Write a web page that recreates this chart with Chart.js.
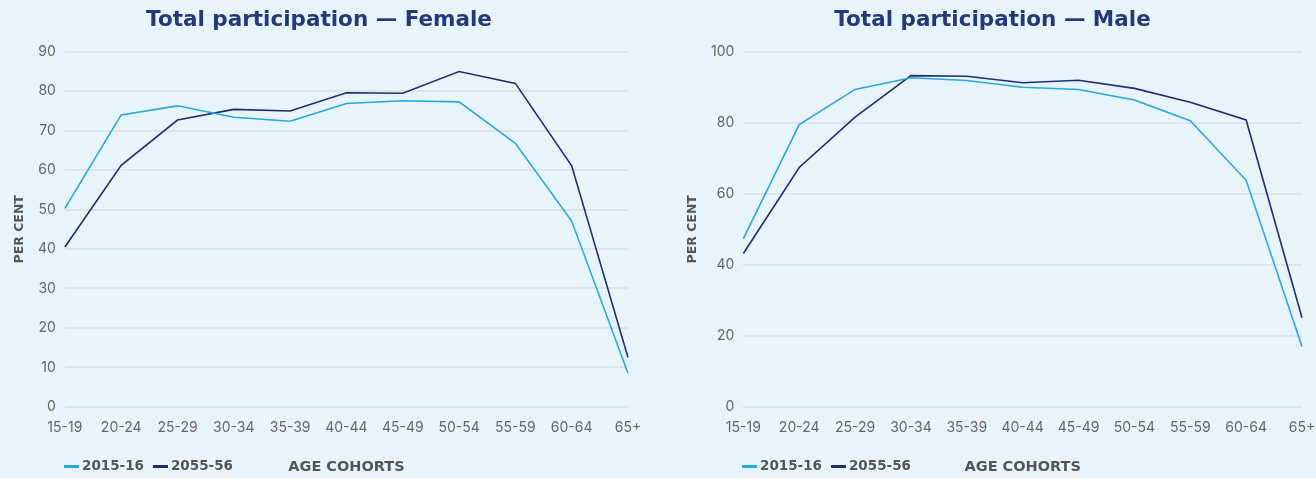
<!DOCTYPE html>
<html>
<head>
<meta charset="utf-8">
<script src="https://cdn.jsdelivr.net/npm/chart.js@4.4.1/dist/chart.umd.min.js"></script>
<style>
    body {
        margin: 0;
        background: #e8f4fc;
        font-family: Inter, sans-serif;
    }
    .painel {
        position: absolute;
        top: 0;
        width: 658px;
        height: 478px;
    }
    .legenda {
        position: absolute;
        top: 457px;
        font: bold 13.5px "DejaVu Sans", sans-serif;
        color: #555;
        display: flex;
        gap: 9px;
    }
    .legenda span.traco {
        display: inline-block;
        width: 15px;
        height: 3px;
        vertical-align: middle;
        margin-right: 3px;
    }
</style>
</head>
<body>
<div class="painel" style="left:0"><canvas id="graficoFeminino"></canvas></div>
<div class="painel" style="left:658px"><canvas id="graficoMasculino"></canvas></div>
<div class="legenda" id="legendaFeminino" style="left:64px"></div>
<div class="legenda" id="legendaMasculino" style="left:742px"></div>

<script>
const faixas = ["15-19", "20-24", "25-29", "30-34", "35-39", "40-44", "45-49", "50-54", "55-59", "60-64", "65+"];
const series = ["2015-16", "2055-56"];

const feminino2015 = [50.3, 74.0, 76.3, 73.4, 72.4, 76.9, 77.6, 77.3, 66.8, 47.1, 8.5];
const feminino2055 = [40.5, 61.2, 72.7, 75.4, 75.0, 79.6, 79.5, 85.0, 82.0, 61.1, 12.5];

const masculino2015 = [47.4, 79.5, 89.4, 92.7, 91.9, 90.0, 89.4, 86.4, 80.6, 63.8, 17.0];
const masculino2055 = [43.2, 67.4, 81.6, 93.3, 93.1, 91.3, 92.0, 89.7, 85.8, 80.8, 25.1];

const cores = ["#29a8e0", "#1f2e74"];

function criarLegenda(id) {
    let html = "";
    for (let i = 0; i < series.length; i++) {
        html += `<div><span class="traco" style="background:${cores[i]}"></span>${series[i]}</div>`;
    }
    document.getElementById(id).innerHTML = html;
}

function criarGrafico(id, titulo, valores1, valores2, maximo, passo, padEsq, padDir) {
    return new Chart(document.getElementById(id), {
        type: "line",
        data: {
            labels: faixas,
            datasets: [{
                label: series[0],
                data: valores1,
                borderColor: cores[0],
                borderWidth: 1.6,
                pointRadius: 0,
                tension: 0
            }, {
                label: series[1],
                data: valores2,
                borderColor: cores[1],
                borderWidth: 1.6,
                pointRadius: 0,
                tension: 0
            }]
        },
        options: {
            responsive: true,
            maintainAspectRatio: false,
            animation: false,
            layout: {
                padding: { left: padEsq, right: padDir, top: 6, bottom: 0 }
            },
            plugins: {
                legend: { display: false },
                tooltip: { enabled: false },
                title: {
                    display: true,
                    text: titulo,
                    color: "#23397b",
                    font: { family: "DejaVu Sans", size: 21.5, weight: "bold" },
                    padding: { top: 2, bottom: 18 }
                }
            },
            scales: {
                x: {
                    offset: false,
                    grid: { display: false },
                    border: { display: false },
                    // o rotulo "65+" pode passar da borda do grafico
                    afterFit: function (escala) {
                        escala.paddingRight = 0;
                    },
                    ticks: {
                        color: "#666",
                        font: { family: "Inter", size: 14 },
                        padding: 5,
                        maxRotation: 0,
                        autoSkip: false
                    },
                    title: {
                        display: true,
                        text: "AGE COHORTS",
                        color: "#555",
                        font: { family: "DejaVu Sans", size: 14.5, weight: "bold" },
                        padding: { top: 17, bottom: 2 }
                    }
                },
                y: {
                    min: 0,
                    max: maximo,
                    border: { display: false },
                    grid: { color: "#dfe4e8", lineWidth: 2, drawTicks: false },
                    ticks: {
                        stepSize: passo,
                        color: "#666",
                        font: { family: "Inter", size: 14 },
                        padding: 9
                    },
                    title: {
                        display: true,
                        text: "PER CENT",
                        color: "#555",
                        font: { family: "DejaVu Sans", size: 12.5, weight: "bold" },
                        padding: 2
                    }
                }
            }
        }
    });
}

criarGrafico("graficoFeminino", "Total participation \u2014 Female", feminino2015, feminino2055, 90, 10, 10, 30);
criarGrafico("graficoMasculino", "Total participation \u2014 Male", masculino2015, masculino2055, 100, 20, 25, 14);
criarLegenda("legendaFeminino");
criarLegenda("legendaMasculino");
</script>
</body>
</html>
